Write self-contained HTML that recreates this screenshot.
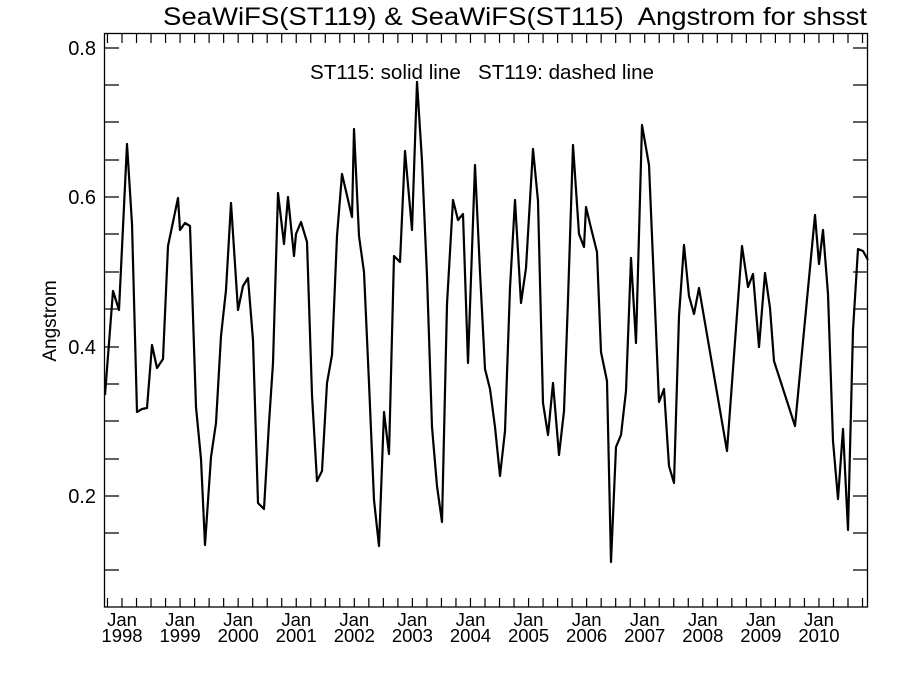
<!DOCTYPE html>
<html><head><meta charset="utf-8"><style>body{margin:0;background:#fff}svg{display:block}</style></head>
<body>
<svg width="900" height="675" xmlns="http://www.w3.org/2000/svg" font-family="Liberation Sans, sans-serif" fill="#000">
<rect width="900" height="675" fill="#fff"/>
<text x="515" y="25" font-size="25" text-anchor="middle" textLength="704" lengthAdjust="spacingAndGlyphs" xml:space="preserve">SeaWiFS(ST119) &amp; SeaWiFS(ST115)  Angstrom for shsst</text>
<text x="482" y="79" font-size="20" text-anchor="middle" textLength="344" lengthAdjust="spacingAndGlyphs" xml:space="preserve">ST115: solid line   ST119: dashed line</text>
<text transform="translate(56,321) rotate(-90)" font-size="19" text-anchor="middle">Angstrom</text>
<g stroke="#000" stroke-width="1.3" fill="none">
<rect x="104.5" y="33.5" width="763" height="573.5"/>
<path d="M105 48h14M105 85h14M105 122h14M105 160h14M105 197h14M105 234h14M105 272h14M105 309h14M105 347h14M105 384h14M105 421h14M105 459h14M105 496h14M105 533h14M105 570h14"/>
<path d="M867 48h-14M867 85h-14M867 122h-14M867 160h-14M867 197h-14M867 234h-14M867 272h-14M867 309h-14M867 347h-14M867 384h-14M867 421h-14M867 459h-14M867 496h-14M867 533h-14M867 570h-14"/>
</g>
<g id="xt" stroke="#000" stroke-width="1.2"></g>
<g font-size="20" text-anchor="end">
<text x="96" y="55">0.8</text><text x="96" y="204">0.6</text><text x="96" y="354">0.4</text><text x="96" y="503">0.2</text>
</g>
<g id="xl" font-size="18.5" text-anchor="middle"></g>
<polyline fill="none" stroke="#000" stroke-width="2.2" stroke-linejoin="round" points="105,395 113,291 119,310 127,144 132,224 137,412 142,409 147,408 152,345 157,368 163,359 168,246 178,198 180,230 185,223 190,226 196,407 201,459 205,545 211,457 216,423 221,336 226,290 231,203 238,310 243,286 248,278 253,340 258,503 264,509 269,423 273,363 278,193 284,244 288,197 294,256 296,234 301,222 307,242 312,395 317,481 322,471 327,383 332,355 337,236 342,174 352,217 354,129 359,236 364,272 369,383 374,500 379,546 384,412 389,454 394,256 400,262 405,151 412,230 417,82 422,161 427,276 432,427 437,486 442,522 447,304 453,200 458,220 463,214 468,363 475,165 480,272 485,369 490,389 495,427 500,476 505,431 510,288 515,200 521,303 526,268 533,149 538,201 543,403 548,435 553,383 559,455 564,411 568,300 573,145 579,234 584,247 586,207 591,228 597,252 601,352 607,381 611,562 616,447 621,435 626,391 631,258 636,343 642,125 649,165 659,402 664,389 669,466 674,483 679,316 684,245 689,296 694,314 699,288 727,451 742,246 748,287 753,274 759,347 765,273 770,308 774,361 795,426 815,215 819,264 823,230 828,294 833,441 838,499 843,429 848,530 853,330 858,249 863,251 868,260"/>
<script>
var xt=document.getElementById('xt'),xl=document.getElementById('xl'),ns='http://www.w3.org/2000/svg';
for(var i=-1;i<53;i++){var x=122+i*14.52;if(x<105||x>867)continue;
var l=document.createElementNS(ns,'path');l.setAttribute('d','M'+x+' 607v-9M'+x+' 34v9');xt.appendChild(l);}
for(var k=0;k<13;k++){var x=122+k*58.08;
var t=document.createElementNS(ns,'text');t.setAttribute('x',x);t.setAttribute('y',626);t.textContent='Jan';xl.appendChild(t);
t=document.createElementNS(ns,'text');t.setAttribute('x',x);t.setAttribute('y',642);t.textContent=1998+k;xl.appendChild(t);}
</script>
</svg>
</body></html>
